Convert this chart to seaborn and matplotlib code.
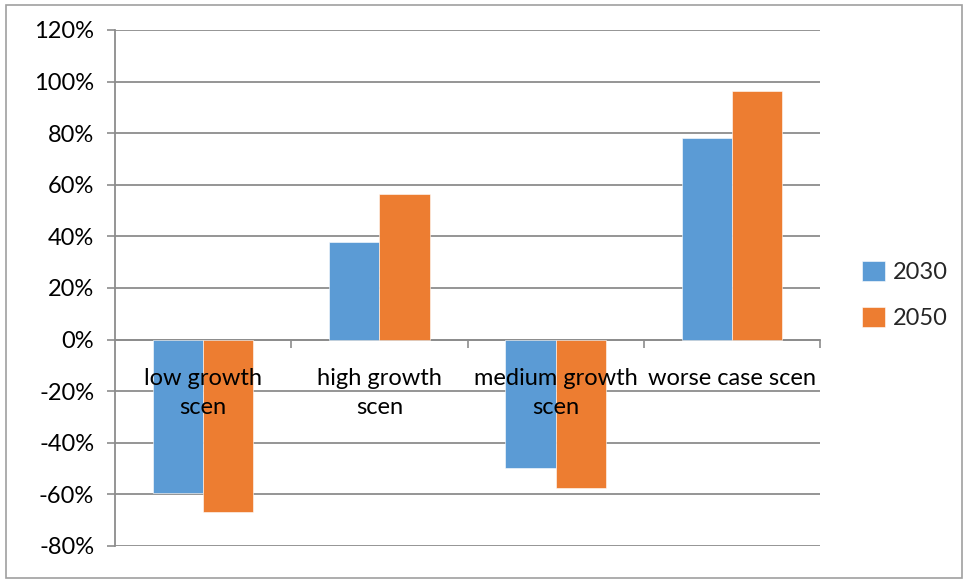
import matplotlib
matplotlib.use("Agg")
import matplotlib.pyplot as plt
from matplotlib.patches import Rectangle
from matplotlib.ticker import FixedLocator, PercentFormatter
import seaborn as sns
import pandas as pd

# Scenario results (share change, %)
scenarios = ["low growth\nscen", "high growth\nscen", "medium growth\nscen", "worse case scen"]
years = ["2030", "2050"]
values_2030 = [-59.5, 38.0, -49.8, 78.0]
values_2050 = [-66.7, 56.4, -57.5, 96.5]
y_ticks = [-80, -60, -40, -20, 0, 20, 40, 60, 80, 100, 120]

df = pd.DataFrame({
    "scenario": scenarios * 2,
    "year": [years[0]] * 4 + [years[1]] * 4,
    "value": values_2030 + values_2050,
})

sns.set_style("white")
plt.rcParams["font.family"] = ["Lato", "DejaVu Sans"]
plt.rcParams["axes.unicode_minus"] = False

W, H = 968, 582
fig = plt.figure(figsize=(W / 100, H / 100), dpi=100)
ax = fig.add_axes([115 / W, 1 - 546 / H, (820 - 115) / W, (546 - 30) / H])

palette = {"2030": "#5B9BD5", "2050": "#ED7D31"}
sns.barplot(data=df, x="scenario", y="value", hue="year", palette=palette,
            order=scenarios, hue_order=years, width=0.57, ax=ax,
            saturation=1, edgecolor="white", linewidth=0.4, zorder=3)

grid_color = "#8C8C8C"
ax.set_ylim(-80, 120)
ax.set_xlim(-0.5, 3.5)
ax.set_yticks(y_ticks)
ax.yaxis.set_major_formatter(PercentFormatter(decimals=0))
ax.yaxis.grid(True, color=grid_color, linewidth=1.3, zorder=0)
ax.set_axisbelow(True)
ax.tick_params(axis="y", length=6, width=1.2, color=grid_color, pad=9,
               labelsize=17, labelcolor="black", direction="out", left=True)

# category axis crossing at zero
for side in ["top", "right"]:
    ax.spines[side].set_visible(False)
ax.spines["left"].set_color(grid_color)
ax.spines["left"].set_linewidth(1.3)
ax.spines["bottom"].set_position(("data", 0))
ax.spines["bottom"].set_color(grid_color)
ax.spines["bottom"].set_linewidth(1.3)

ax.set_xticks(range(len(scenarios)))
ax.set_xticklabels([])
ax.tick_params(axis="x", which="major", length=0)
ax.xaxis.set_minor_locator(FixedLocator([0.5, 1.5, 2.5, 3.5]))
ax.tick_params(axis="x", which="minor", length=6, width=1.2, color=grid_color,
               direction="out", bottom=True)
ax.set_xlabel("")
ax.set_ylabel("")

# category names sit over the bars, just under the zero line
for i, name in enumerate(scenarios):
    ax.text(i, -11.0, name, ha="center", va="top", fontsize=17,
            linespacing=1.45, color="black", zorder=6)

# legend to the right of the plot
handles, labels = ax.get_legend_handles_labels()
ax.legend(handles, labels, loc="center left", bbox_to_anchor=(853 / W, 1 - 295 / H),
          bbox_transform=fig.transFigure, frameon=False, fontsize=17,
          handlelength=0.95, handleheight=0.95, handletextpad=0.35,
          labelspacing=1.0, borderaxespad=0)

# chart frame
fig.patches.append(Rectangle((6 / W, 4 / H), (962 - 6) / W, (577 - 4) / H,
                             transform=fig.transFigure, fill=False,
                             edgecolor="#A0A0A0", linewidth=1.2))

fig.savefig("out.png", dpi=100)
